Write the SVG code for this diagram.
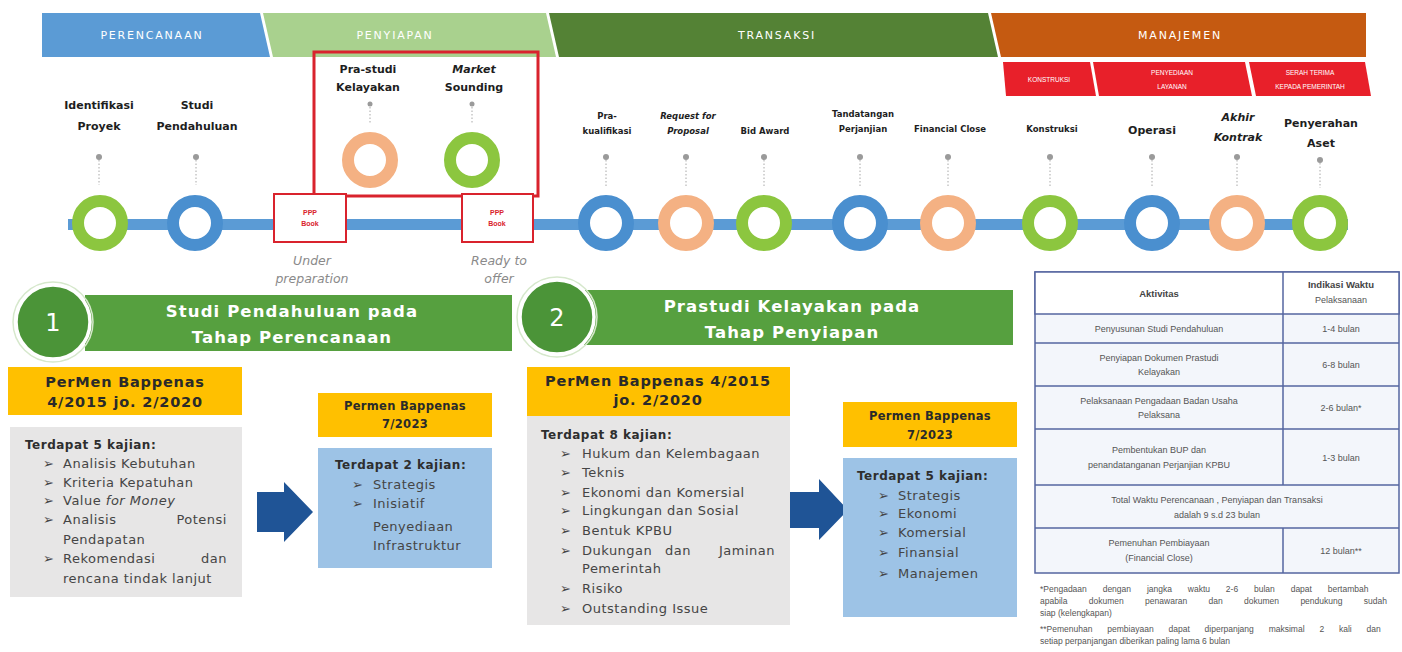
<svg xmlns="http://www.w3.org/2000/svg" width="1402" height="652" viewBox="0 0 1402 652">
  <defs>
    <style>
      .band{font-family:"DejaVu Sans","Liberation Sans",sans-serif;font-size:11px;fill:#ffffff;text-anchor:middle;letter-spacing:1.8px}
      .sub{font-family:"Liberation Sans",sans-serif;font-size:6.5px;fill:#ffffff;text-anchor:middle}
      .lbl{font-family:"DejaVu Sans","Liberation Sans",sans-serif;font-weight:bold;font-size:11px;fill:#1e1e1e;text-anchor:middle}
      .lbs{font-family:"DejaVu Sans","Liberation Sans",sans-serif;font-weight:bold;font-size:8.5px;fill:#1e1e1e;text-anchor:middle}
      .ring{fill:#ffffff;stroke-width:12}
      .g{stroke:#8CC63F}
      .b{stroke:#4A8FCF}
      .o{stroke:#F4B183}
      .dot{fill:#9a9a9a}
      .lead{stroke:#a8a8a8;stroke-width:1;stroke-dasharray:1.5 2;fill:none}
      .ppp{fill:#ffffff;stroke:#D9232D;stroke-width:2}
      .ppt{font-family:"Liberation Sans",sans-serif;font-weight:bold;font-size:7px;fill:#D9232D;text-anchor:middle}
      .note{font-family:"DejaVu Sans","Liberation Sans",sans-serif;font-style:italic;font-size:12.5px;fill:#8a8a8a;text-anchor:middle}
      .hd{font-family:"DejaVu Sans","Liberation Sans",sans-serif;font-weight:bold;font-size:16.5px;fill:#ffffff;text-anchor:middle;letter-spacing:1.1px}
      .num{font-family:"DejaVu Sans","Liberation Sans",sans-serif;font-size:24px;fill:#ffffff;text-anchor:middle}
      .yl{font-family:"DejaVu Sans","Liberation Sans",sans-serif;font-weight:bold;font-size:14.5px;fill:#2a2a2a;text-anchor:middle;letter-spacing:0.8px}
      .ys{font-family:"DejaVu Sans","Liberation Sans",sans-serif;font-weight:bold;font-size:11.5px;fill:#2a2a2a;text-anchor:middle;letter-spacing:0.3px}
      .bt{font-family:"DejaVu Sans","Liberation Sans",sans-serif;font-size:13px;fill:#454545;letter-spacing:0.5px}
      .bh{font-family:"DejaVu Sans","Liberation Sans",sans-serif;font-weight:bold;font-size:12px;fill:#2e2e2e;letter-spacing:0.5px}
      .yel{fill:#FFC000}
      .gry{fill:#E7E6E6}
      .blu{fill:#9DC3E6}
      .arr{fill:#1F5496}
      .tt{font-family:"Liberation Sans",sans-serif;font-size:9px;fill:#555555;text-anchor:middle}
      .tth{font-family:"Liberation Sans",sans-serif;font-weight:bold;font-size:9.5px;fill:#444444;text-anchor:middle}
      .fn{font-family:"Liberation Sans",sans-serif;font-size:8.5px;fill:#555555}
    </style>
  </defs>

  <rect width="1402" height="652" fill="#ffffff"/>

  <!-- phase bands -->
  <g id="phases">
    <polygon points="42,13 260,13 270,57 42,57" fill="#5B9BD5"/>
    <polygon points="263,13 546,13 556,57 273,57" fill="#A9D18E"/>
    <polygon points="549,13 988,13 998,57 559,57" fill="#548235"/>
    <polygon points="991,13 1366,13 1366,57 1001,57" fill="#C55A11"/>
    <text class="band" x="152" y="39">PERENCANAAN</text>
    <text class="band" x="395" y="39">PENYIAPAN</text>
    <text class="band" x="777" y="39">TRANSAKSI</text>
    <text class="band" x="1180" y="39">MANAJEMEN</text>
    <polygon points="1003,62 1090,62 1096,96 1006,96" fill="#E8202A"/>
    <polygon points="1093,62 1245,62 1252,96 1099,96" fill="#E8202A"/>
    <polygon points="1249,62 1365,62 1371,96 1256,96" fill="#E8202A"/>
    <text class="sub" x="1049" y="82">KONSTRUKSI</text>
    <text class="sub" x="1172" y="75">PENYEDIAAN</text>
    <text class="sub" x="1172" y="89">LAYANAN</text>
    <text class="sub" x="1310" y="75">SERAH TERIMA</text>
    <text class="sub" x="1310" y="89">KEPADA PEMERINTAH</text>
  </g>

  <!-- timeline bar, leaders and block arrows -->
  <g id="connectors">
    <rect x="68" y="219" width="1280" height="11" fill="#5B9BD5"/>
    <path class="lead" d="M99,160 V185 M196,160 V185 M370,107 V124 M472,107 V124 M606,160 V186 M686,160 V186 M764,160 V186 M860,160 V186 M948,160 V186 M1050,160 V186 M1152,160 V186 M1237,160 V186 M1320,163 V188"/>
    <circle class="dot" cx="99" cy="157" r="3"/>
    <circle class="dot" cx="196" cy="157" r="3"/>
    <circle class="dot" cx="370" cy="104" r="2.5"/>
    <circle class="dot" cx="472" cy="104" r="2.5"/>
    <circle class="dot" cx="606" cy="157" r="3"/>
    <circle class="dot" cx="686" cy="157" r="3"/>
    <circle class="dot" cx="764" cy="157" r="3"/>
    <circle class="dot" cx="860" cy="157" r="3"/>
    <circle class="dot" cx="948" cy="157" r="3"/>
    <circle class="dot" cx="1050" cy="157" r="3"/>
    <circle class="dot" cx="1152" cy="157" r="3"/>
    <circle class="dot" cx="1237" cy="157" r="3"/>
    <circle class="dot" cx="1320" cy="160" r="3"/>
    <polygon class="arr" points="257,492 284,492 284,482 313,512 284,542 284,532 257,532"/>
    <polygon class="arr" points="790,492 819,492 819,479 848,510 819,540 819,528 790,528"/>
  </g>

  <!-- planning milestones -->
  <g id="identifikasi-proyek">
    <text class="lbl" x="99" y="109">Identifikasi</text>
    <text class="lbl" x="99" y="130">Proyek</text>
    <circle class="ring g" cx="100" cy="223" r="22"/>
  </g>
  <g id="studi-pendahuluan">
    <text class="lbl" x="197" y="109">Studi</text>
    <text class="lbl" x="197" y="130">Pendahuluan</text>
    <circle class="ring b" cx="195" cy="223" r="22"/>
  </g>

  <!-- preparation milestones -->
  <g id="penyiapan-box">
    <rect x="314" y="52" width="224" height="144" fill="none" stroke="#D9232D" stroke-width="3"/>
  </g>
  <g id="pra-studi-kelayakan">
    <text class="lbl" x="368" y="73">Pra-studi</text>
    <text class="lbl" x="368" y="91">Kelayakan</text>
    <circle class="ring o" cx="370" cy="160" r="22"/>
  </g>
  <g id="market-sounding">
    <text class="lbl" x="474" y="73" font-style="italic">Market</text>
    <text class="lbl" x="474" y="91">Sounding</text>
    <circle class="ring g" cx="472" cy="160" r="22"/>
  </g>
  <g id="ppp-book-under-preparation">
    <rect class="ppp" x="274" y="194" width="72" height="48"/>
    <text class="ppt" x="310" y="215">PPP</text>
    <text class="ppt" x="310" y="226">Book</text>
    <text class="note" x="312" y="265">Under</text>
    <text class="note" x="312" y="283">preparation</text>
  </g>
  <g id="ppp-book-ready-to-offer">
    <rect class="ppp" x="462" y="194" width="71" height="48"/>
    <text class="ppt" x="497" y="215">PPP</text>
    <text class="ppt" x="497" y="226">Book</text>
    <text class="note" x="499" y="265">Ready to</text>
    <text class="note" x="499" y="283">offer</text>
  </g>

  <!-- transaction milestones -->
  <g id="pra-kualifikasi">
    <text class="lbs" x="607" y="119">Pra-</text>
    <text class="lbs" x="607" y="134">kualifikasi</text>
    <circle class="ring b" cx="606" cy="223" r="22"/>
  </g>
  <g id="request-for-proposal">
    <text class="lbs" x="688" y="119" font-style="italic">Request for</text>
    <text class="lbs" x="688" y="134" font-style="italic">Proposal</text>
    <circle class="ring o" cx="686" cy="223" r="22"/>
  </g>
  <g id="bid-award">
    <text class="lbs" x="765" y="134">Bid Award</text>
    <circle class="ring g" cx="764" cy="223" r="22"/>
  </g>
  <g id="tandatangan-perjanjian">
    <text class="lbs" x="863" y="117">Tandatangan</text>
    <text class="lbs" x="863" y="132">Perjanjian</text>
    <circle class="ring b" cx="860" cy="223" r="22"/>
  </g>
  <g id="financial-close">
    <text class="lbs" x="950" y="132">Financial Close</text>
    <circle class="ring o" cx="948" cy="223" r="22"/>
  </g>

  <!-- management milestones -->
  <g id="konstruksi">
    <text class="lbs" x="1052" y="132">Konstruksi</text>
    <circle class="ring g" cx="1050" cy="223" r="22"/>
  </g>
  <g id="operasi">
    <text class="lbl" x="1152" y="134" font-size="14">Operasi</text>
    <circle class="ring b" cx="1152" cy="223" r="22"/>
  </g>
  <g id="akhir-kontrak">
    <text class="lbl" x="1238" y="121" font-size="12" font-style="italic">Akhir</text>
    <text class="lbl" x="1238" y="141" font-size="12" font-style="italic">Kontrak</text>
    <circle class="ring o" cx="1237" cy="223" r="22"/>
  </g>
  <g id="penyerahan-aset">
    <text class="lbl" x="1321" y="127" font-size="12.5">Penyerahan</text>
    <text class="lbl" x="1321" y="147" font-size="12.5">Aset</text>
    <circle class="ring g" cx="1320" cy="223" r="22"/>
  </g>

  <!-- section 1 -->
  <g id="studi-pendahuluan-header">
    <rect x="85" y="295" width="427" height="56" fill="#56A03F"/>
    <circle cx="53" cy="322" r="40" fill="none" stroke="#d6e8cc" stroke-width="1.5"/>
    <circle cx="53" cy="322" r="37" fill="#4B9438" stroke="#ffffff" stroke-width="3.5"/>
    <text class="num" x="53" y="331">1</text>
    <text class="hd" x="292" y="317">Studi Pendahuluan pada</text>
    <text class="hd" x="292" y="343">Tahap Perencanaan</text>
  </g>
  <g id="permen-2015-perencanaan">
    <rect class="yel" x="8" y="367" width="234" height="48"/>
    <text class="yl" x="125" y="387">PerMen Bappenas</text>
    <text class="yl" x="125" y="407">4/2015 jo. 2/2020</text>
    <rect class="gry" x="10" y="427" width="232" height="170"/>
    <text class="bh" x="25" y="449">Terdapat 5 kajian:</text>
    <g class="bt">
      <text x="43" y="468">➢</text><text x="63" y="468">Analisis Kebutuhan</text>
      <text x="43" y="487">➢</text><text x="63" y="487">Kriteria Kepatuhan</text>
      <text x="43" y="505">➢</text><text x="63" y="505">Value <tspan font-style="italic">for Money</tspan></text>
      <text x="43" y="524">➢</text><text x="63" y="524">Analisis</text><text x="227" y="524" text-anchor="end">Potensi</text>
      <text x="63" y="544">Pendapatan</text>
      <text x="43" y="563">➢</text><text x="63" y="563">Rekomendasi</text><text x="227" y="563" text-anchor="end">dan</text>
      <text x="63" y="583">rencana tindak lanjut</text>
    </g>
  </g>
  <g id="permen-2023-perencanaan">
    <rect class="yel" x="318" y="393" width="174" height="44"/>
    <text class="ys" x="405" y="410">Permen Bappenas</text>
    <text class="ys" x="405" y="428">7/2023</text>
    <rect class="blu" x="318" y="448" width="174" height="120"/>
    <text class="bh" x="335" y="469">Terdapat 2 kajian:</text>
    <g class="bt">
      <text x="352" y="489">➢</text><text x="373" y="489">Strategis</text>
      <text x="352" y="508">➢</text><text x="373" y="508">Inisiatif</text>
      <text x="373" y="531">Penyediaan</text>
      <text x="373" y="550">Infrastruktur</text>
    </g>
  </g>

  <!-- section 2 -->
  <g id="prastudi-kelayakan-header">
    <rect x="583" y="290" width="430" height="55" fill="#56A03F"/>
    <circle cx="557" cy="317" r="40" fill="none" stroke="#d6e8cc" stroke-width="1.5"/>
    <circle cx="557" cy="317" r="37" fill="#4B9438" stroke="#ffffff" stroke-width="3.5"/>
    <text class="num" x="557" y="326">2</text>
    <text class="hd" x="792" y="312">Prastudi Kelayakan pada</text>
    <text class="hd" x="792" y="338">Tahap Penyiapan</text>
  </g>
  <g id="permen-2015-penyiapan">
    <rect class="yel" x="527" y="367" width="263" height="49"/>
    <text class="yl" x="658" y="386">PerMen Bappenas 4/2015</text>
    <text class="yl" x="658" y="405">jo. 2/2020</text>
    <rect class="gry" x="527" y="416" width="263" height="209"/>
    <text class="bh" x="541" y="439">Terdapat 8 kajian:</text>
    <g class="bt">
      <text x="560" y="458">➢</text><text x="582" y="458">Hukum dan Kelembagaan</text>
      <text x="560" y="477">➢</text><text x="582" y="477">Teknis</text>
      <text x="560" y="497">➢</text><text x="582" y="497">Ekonomi dan Komersial</text>
      <text x="560" y="515">➢</text><text x="582" y="515">Lingkungan dan Sosial</text>
      <text x="560" y="535">➢</text><text x="582" y="535">Bentuk KPBU</text>
      <text x="560" y="555">➢</text><text x="582" y="555">Dukungan</text><text x="678" y="555" text-anchor="middle">dan</text><text x="775" y="555" text-anchor="end">Jaminan</text>
      <text x="582" y="573">Pemerintah</text>
      <text x="560" y="593">➢</text><text x="582" y="593">Risiko</text>
      <text x="560" y="613">➢</text><text x="582" y="613">Outstanding Issue</text>
    </g>
  </g>
  <g id="permen-2023-penyiapan">
    <rect class="yel" x="843" y="402" width="174" height="45"/>
    <text class="ys" x="930" y="420">Permen Bappenas</text>
    <text class="ys" x="930" y="439">7/2023</text>
    <rect class="blu" x="843" y="458" width="174" height="159"/>
    <text class="bh" x="857" y="480">Terdapat 5 kajian:</text>
    <g class="bt">
      <text x="878" y="500">➢</text><text x="898" y="500">Strategis</text>
      <text x="878" y="518">➢</text><text x="898" y="518">Ekonomi</text>
      <text x="878" y="537">➢</text><text x="898" y="537">Komersial</text>
      <text x="878" y="557">➢</text><text x="898" y="557">Finansial</text>
      <text x="878" y="578">➢</text><text x="898" y="578">Manajemen</text>
    </g>
  </g>

  <!-- schedule table -->
  <g id="indikasi-waktu">
    <rect x="1035" y="272" width="364" height="301" fill="#F3F6FB" stroke="#5566A0" stroke-width="1.5"/>
    <rect x="1035" y="272" width="364" height="42" fill="#ffffff" stroke="#5566A0" stroke-width="1.5"/>
    <g stroke="#5566A0" stroke-width="1.5">
      <line x1="1035" y1="343" x2="1399" y2="343"/>
      <line x1="1035" y1="386" x2="1399" y2="386"/>
      <line x1="1035" y1="429" x2="1399" y2="429"/>
      <line x1="1035" y1="485" x2="1399" y2="485"/>
      <line x1="1035" y1="528" x2="1399" y2="528"/>
      <line x1="1283" y1="272" x2="1283" y2="485"/>
      <line x1="1283" y1="528" x2="1283" y2="573"/>
    </g>
    <text class="tth" x="1159" y="297">Aktivitas</text>
    <text class="tth" x="1341" y="288">Indikasi Waktu</text>
    <text class="tt" x="1341" y="303">Pelaksanaan</text>
    <text class="tt" x="1159" y="332">Penyusunan Studi Pendahuluan</text>
    <text class="tt" x="1341" y="332">1-4 bulan</text>
    <text class="tt" x="1159" y="361">Penyiapan Dokumen Prastudi</text>
    <text class="tt" x="1159" y="375">Kelayakan</text>
    <text class="tt" x="1341" y="368">6-8 bulan</text>
    <text class="tt" x="1159" y="404">Pelaksanaan Pengadaan Badan Usaha</text>
    <text class="tt" x="1159" y="418">Pelaksana</text>
    <text class="tt" x="1341" y="411">2-6 bulan*</text>
    <text class="tt" x="1159" y="453">Pembentukan BUP dan</text>
    <text class="tt" x="1159" y="468">penandatanganan Perjanjian KPBU</text>
    <text class="tt" x="1341" y="461">1-3 bulan</text>
    <text class="tt" x="1217" y="503">Total Waktu Perencanaan , Penyiapan dan Transaksi</text>
    <text class="tt" x="1217" y="518">adalah 9 s.d 23 bulan</text>
    <text class="tt" x="1159" y="546">Pemenuhan Pembiayaan</text>
    <text class="tt" x="1159" y="561">(Financial Close)</text>
    <text class="tt" x="1341" y="554">12 bulan**</text>
  </g>
  <g id="catatan">
    <text class="fn" x="1040" y="592" word-spacing="13.5">*Pengadaan dengan jangka waktu 2-6 bulan dapat bertambah</text>
    <text class="fn" x="1040" y="604" word-spacing="19">apabila dokumen penawaran dan dokumen pendukung sudah</text>
    <text class="fn" x="1040" y="616">siap (kelengkapan)</text>
    <text class="fn" x="1040" y="632" word-spacing="12.5">**Pemenuhan pembiayaan dapat diperpanjang maksimal 2 kali dan</text>
    <text class="fn" x="1040" y="644">setiap perpanjangan diberikan paling lama 6 bulan</text>
  </g>
</svg>
